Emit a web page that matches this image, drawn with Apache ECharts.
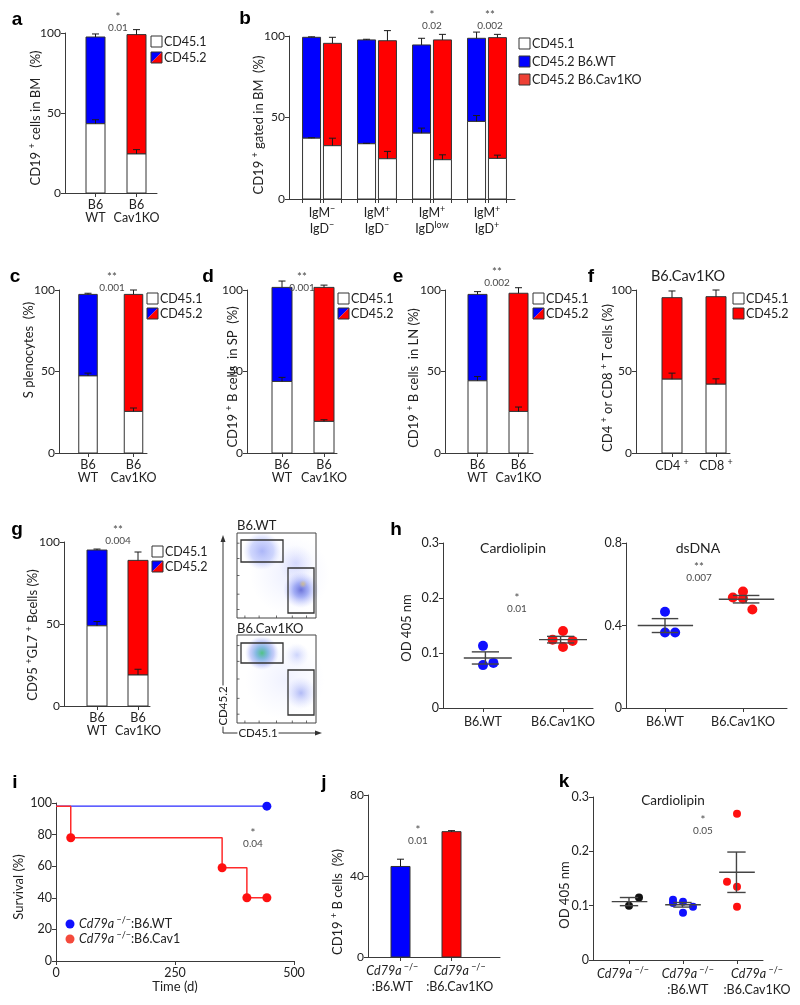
<!DOCTYPE html>
<html><head><meta charset="utf-8">
<script src="https://cdn.jsdelivr.net/npm/echarts@6/dist/echarts.min.js"></script>
<style>html,body{margin:0;padding:0;background:#fff}#c{width:800px;height:1005px}</style>
</head><body><div id="c"></div>
<script>
// ================= DATA =================
const stackCats = ['B6\nWT', 'B6\nCav1KO'];
const stackLegend = ['CD45.1', 'CD45.2'];
// a
const aCD451 = [43.3, 24.4], aCD451Sem = [2.5, 2.7], aTotal = [97.5, 99.0], aTotalSem = [1.9, 3.1];
const aSig = ['*', '0.01'];
// b
const bCats = ['{n|IgM}{s|−}\n{n|IgD}{s|−}', '{n|IgM}{s|+}\n{n|IgD}{s|−}', '{n|IgM}{s|+}\n{n|IgD}{s|low}', '{n|IgM}{s|+}\n{n|IgD}{s|+}'];
const bLegend = ['CD45.1', 'CD45.2 B6.WT', 'CD45.2 B6.Cav1KO'];
const bWtCD451 = [37.3, 33.9, 40.4, 47.6], bWtCD451Sem = [0.3, 0.3, 3.1, 3.6];
const bWtTotal = [99.2, 97.6, 94.5, 98.6], bWtTotalSem = [0.3, 0.4, 4.1, 3.8];
const bKoCD451 = [32.7, 24.7, 24.1, 24.9], bKoCD451Sem = [4.6, 4.5, 3.0, 2.0];
const bKoTotal = [95.5, 97.1, 97.6, 99.0], bKoTotalSem = [3.7, 6.2, 3.4, 2.0];
const bSig = [['*', '0.02'], ['**', '0.002']];
// c
const cCD451 = [47.3, 25.5], cCD451Sem = [1.7, 2.1], cTotal = [97.3, 97.3], cTotalSem = [0.7, 2.7];
const cSig = ['**', '0.001'];
// d
const dCD451 = [43.9, 19.4], dCD451Sem = [2.5, 1.0], dTotal = [101.6, 101.6], dTotalSem = [3.9, 1.4];
const dSig = ['**', '0.001'];
// e
const eCD451 = [44.3, 25.5], eCD451Sem = [2.6, 2.7], eTotal = [97.3, 98.0], eTotalSem = [1.7, 3.4];
const eSig = ['**', '0.002'];
// f
const fCats = ['{n|CD4 }{s|+}', '{n|CD8 }{s|+}'];
const fTitle = 'B6.Cav1KO';
const fCD451 = [45.3, 42.2], fCD451Sem = [3.7, 3.3], fTotal = [95.3, 95.9], fTotalSem = [4.1, 4.1];
// g
const gCD451 = [48.9, 18.9], gCD451Sem = [2.6, 3.5], gTotal = [95.1, 88.8], gTotalSem = [0.6, 5.1];
const gSig = ['**', '0.004'];
const flowTitles = ['B6.WT', 'B6.Cav1KO'];
const flowAxes = ['CD45.2', 'CD45.1'];
// h
const hCats = ['B6.WT', 'B6.Cav1KO'];
const hTitles = ['Cardiolipin', 'dsDNA'];
const hCardioWT = [0.113, 0.078, 0.082];
const hCardioKO = [0.124, 0.140, 0.111, 0.122];
const hDnaWT = [0.467, 0.366, 0.366];
const hDnaKO = [0.536, 0.531, 0.565, 0.478];
const hSig = [['*', '0.01'], ['**', '0.007']];
// i
const iTimeWT = [0, 443], iSurvWT = [98, 98];
const iTimeKO = [0, 31, 349, 401, 443], iSurvKO = [98, 78, 59, 40, 40];
const iLegend = ['{i|Cd79a}{s| −/−}{n|:B6.WT}', '{i|Cd79a}{s| −/−}{n|:B6.Cav1}'];
const iSig = ['*', '0.04'];
// j
const jCats = ['{i|Cd79a}{s| −/−}\n{n|:B6.WT}', '{i|Cd79a}{s| −/−}\n{n|:B6.Cav1KO}'];
const jVals = [44.7, 61.9], jSem = [3.6, 0.5];
const jSig = ['*', '0.01'];
// k
const kCats = ['{i|Cd79a}{s| −/−}', '{i|Cd79a}{s| −/−}\n{n|:B6.WT}', '{i|Cd79a}{s| −/−}\n{n|:B6.Cav1KO}'];
const kTitle = 'Cardiolipin';
const kKO = [0.100, 0.115];
const kWT = [0.111, 0.105, 0.107, 0.087, 0.098];
const kCav = [0.144, 0.269, 0.135, 0.098];
const kSig = ['*', '0.05'];
// axis titles
const yTitles = {
  a: '{n|CD19 }{s|+}{n| cells in BM   (%)}',
  b: '{n|CD19 }{s|+}{n| gated in BM  (%)}',
  c: '{n|S plenocytes  (%)}',
  d: '{n|CD19 }{s|+}{n| B cells  in SP  (%)}',
  e: '{n|CD19 }{s|+}{n| B cells  in LN (%)}',
  f: '{n|CD4 }{s|+}{n| or CD8 }{s|+}{n| T cells (%)}',
  g: '{n|CD95 }{s|+}{n|GL7 }{s|+}{n| Bcells (%)}',
  h: '{n|OD 405 nm}', i: '{n|Survival (%)}', j: '{n|CD19 }{s|+}{n| B cells  (%)}', k: '{n|OD 405 nm}'
};
const iXTitle = 'Time (d)';
const panelLetters = ['a','b','c','d','e','f','g','h','i','j','k'];

// ================= LAYOUT / STYLE =================
const FONT = 'Lato';
const AX = '#3a3a3a', TXT = '#222', SIGC = '#4a4a4a';
const BLUE = '#0000ff', RED = '#ff0000', RED2 = '#ee4035';
const RICH = {
  n: {fontSize: 12.5, fontFamily: FONT, color: TXT, lineHeight: 16},
  s: {fontSize: 9, fontFamily: FONT, color: TXT, verticalAlign: 'top', lineHeight: 10},
  i: {fontSize: 12.5, fontFamily: FONT, color: TXT, fontStyle: 'italic', lineHeight: 16}
};
const RICH_T = {
  n: {fontSize: 13, fontFamily: FONT, color: TXT, lineHeight: 17},
  s: {fontSize: 9, fontFamily: FONT, color: TXT, verticalAlign: 'top', lineHeight: 10}
};
const L = {
  a: {left: 65, right: 157, top: 33, bottom: 193, c1: 95.5, u: 41, bw: 19},
  b: {left: 289, right: 515, top: 36, bottom: 199, c1: 322, u: 55, bw: 18, off: 0.19},
  c: {left: 59, right: 147, top: 290, bottom: 453, c1: 88, u: 45.5, bw: 18.5},
  d: {left: 247, right: 337, top: 290, bottom: 453, c1: 282, u: 42, bw: 20},
  e: {left: 445, right: 533, top: 290, bottom: 453, c1: 477.5, u: 41, bw: 19},
  f: {left: 636, right: 730, top: 290, bottom: 453, c1: 672, u: 44, bw: 20},
  g: {left: 64, right: 150, top: 542, bottom: 706, c1: 97, u: 41, bw: 20},
  j: {left: 368, right: 500, top: 795, bottom: 957, c1: 400.5, u: 51, bw: 19},
  h1: {left: 443, right: 593, top: 543, bottom: 708, c1: 483, u: 80},
  h2: {left: 626, right: 787, top: 543, bottom: 708, c1: 665, u: 78},
  k: {left: 593, right: 763, top: 797, bottom: 960, c1: 629, u: 54},
  i: {left: 56, right: 294, top: 803, bottom: 961}
};
const jit3 = [0, 0, 0.13], jit4 = [-0.13, 0, 0, 0.12];
const kJit2 = [0, 0.185], kJit5 = [-0.185, -0.185, 0, 0, 0.185], kJit4 = [-0.185, 0, 0, 0];

const grids = [], xAxes = [], yAxes = [], series = [], graphics = [];

function xr(l) { return {min: 1 - (l.c1 - l.left) / l.u, max: 1 + (l.right - l.c1) / l.u}; }
function addGrid(l) {
  grids.push({left: l.left, top: l.top, width: l.right - l.left, height: l.bottom - l.top});
  return grids.length - 1;
}
function yAx(gi, max, interval, fs) {
  return {type: 'value', gridIndex: gi, min: 0, max, interval,
    axisLine: {show: true, lineStyle: {color: AX, width: 1}},
    axisTick: {show: true, length: 4, lineStyle: {color: AX}},
    axisLabel: {color: TXT, fontSize: fs || 12, fontFamily: FONT, margin: 4},
    splitLine: {show: false}};
}
function xAxC(gi, range, labelVals, labelTexts, tickVals, margin) {
  return {type: 'value', gridIndex: gi, min: range.min, max: range.max,
    axisLine: {show: true, lineStyle: {color: AX, width: 1}},
    axisTick: {show: true, length: 4, lineStyle: {color: AX}, customValues: tickVals},
    axisLabel: {customValues: labelVals, margin: margin || 5, color: TXT, fontSize: 12.5, fontFamily: FONT, lineHeight: 13,
      rich: RICH,
      formatter: (v) => { const i = labelVals.findIndex(u => Math.abs(u - v) < 1e-6); return i >= 0 ? labelTexts[i] : ''; }},
    splitLine: {show: false}};
}
function stackBars(gi, xs, bw, w, wSem, t, tSem, colors) {
  const data = xs.map((x, i) => [x, w[i], t[i], wSem[i], tSem[i], i]);
  series.push({type: 'custom', xAxisIndex: gi, yAxisIndex: gi, clip: false, silent: true, z: 3, data,
    renderItem: (p, api) => {
      const x = api.value(0), wv = api.value(1), tv = api.value(2), ew = api.value(3), et = api.value(4), ci = api.value(5);
      const half = api.size([bw, 0])[0] / 2;
      const P = v => api.coord([x, v]);
      const p0 = P(0), pw = P(wv), pt = P(tv), pwe = P(wv + ew), pte = P(tv + et);
      const cap = 3.5, es = {stroke: '#1a1a1a', lineWidth: 1};
      const ch = [];
      const stacked = tv > wv;
      if (stacked) ch.push({type: 'rect', shape: {x: p0[0] - half, y: pt[1], width: 2 * half, height: pw[1] - pt[1]}, style: {fill: colors[ci], stroke: '#333', lineWidth: 1}});
      ch.push({type: 'rect', shape: {x: p0[0] - half, y: pw[1], width: 2 * half, height: p0[1] - pw[1]}, style: {fill: stacked ? '#fff' : colors[ci], stroke: '#333', lineWidth: 1}});
      if (ew > 0) { ch.push({type: 'line', shape: {x1: p0[0], y1: pw[1], x2: p0[0], y2: pwe[1]}, style: es});
        ch.push({type: 'line', shape: {x1: p0[0] - cap, y1: pwe[1], x2: p0[0] + cap, y2: pwe[1]}, style: es}); }
      if (stacked && et > 0) { ch.push({type: 'line', shape: {x1: p0[0], y1: pt[1], x2: p0[0], y2: pte[1]}, style: es});
        ch.push({type: 'line', shape: {x1: p0[0] - cap, y1: pte[1], x2: p0[0] + cap, y2: pte[1]}, style: es}); }
      return {type: 'group', children: ch};
    }});
}
function meanSem(v) {
  const n = v.length, m = v.reduce((a, b) => a + b, 0) / n;
  const sd = Math.sqrt(v.reduce((a, b) => a + (b - m) * (b - m), 0) / (n - 1));
  return [m, sd / Math.sqrt(n)];
}
function dots(gi, c, vals, jit, color, size) {
  series.push({type: 'scatter', xAxisIndex: gi, yAxisIndex: gi, symbol: 'circle', symbolSize: size, z: 2,
    itemStyle: {color, opacity: 1}, data: vals.map((v, i) => [c + jit[i], v])});
}
function meanSemSeries(gi, groups, ml, mr, capw) {
  const data = groups.map(g => { const ms = meanSem(g.vals); return [g.c, ms[0], ms[1]]; });
  series.push({type: 'custom', xAxisIndex: gi, yAxisIndex: gi, clip: false, silent: true, z: 4, data,
    renderItem: (p, api) => {
      const c = api.value(0), m = api.value(1), s = api.value(2);
      const A = api.coord([c - ml, m]), B = api.coord([c + mr, m]);
      const U = api.coord([c, m + s]), D = api.coord([c, m - s]);
      const cl = api.coord([c - capw, m])[0], cr = api.coord([c + capw, m])[0];
      const st = {stroke: '#444', lineWidth: 1.4};
      return {type: 'group', children: [
        {type: 'line', shape: {x1: A[0], y1: A[1], x2: B[0], y2: B[1]}, style: st},
        {type: 'line', shape: {x1: U[0], y1: U[1], x2: D[0], y2: D[1]}, style: st},
        {type: 'line', shape: {x1: cl, y1: U[1], x2: cr, y2: U[1]}, style: st},
        {type: 'line', shape: {x1: cl, y1: D[1], x2: cr, y2: D[1]}, style: st}]};
    }});
}
function txt(x, y, text, opt) {
  opt = opt || {};
  graphics.push({type: 'text', x, y, rotation: opt.rot || 0, z: 10,
    style: Object.assign({text, fill: opt.color || TXT, font: (opt.weight || 'normal') + ' ' + (opt.size || 12) + 'px ' + (opt.family || FONT),
      align: opt.align || 'center', verticalAlign: opt.va || 'middle', textAlign: opt.align || 'center', textVerticalAlign: opt.va || 'middle'},
      opt.rich ? {rich: opt.rich} : {}, opt.bg ? {backgroundColor: opt.bg, padding: opt.pad || [0, 2]} : {})});
}
function sig(x, y, pair) { txt(x, y, pair[0], {size: 11.5, color: SIGC}); txt(x, y + 10.5, pair[1], {size: 10, color: SIGC}); }
function legendBox(x, y, kind, label, size) {
  const s = size || 11;
  if (kind === 'split') {
    graphics.push({type: 'polygon', z: 10, shape: {points: [[x, y], [x + s, y], [x, y + s]]}, style: {fill: BLUE}});
    graphics.push({type: 'polygon', z: 10, shape: {points: [[x + s, y], [x + s, y + s], [x, y + s]]}, style: {fill: RED}});
    graphics.push({type: 'rect', z: 11, shape: {x, y, width: s, height: s}, style: {fill: 'none', stroke: '#333', lineWidth: 1}});
  } else {
    graphics.push({type: 'rect', z: 10, shape: {x, y, width: s, height: s}, style: {fill: kind, stroke: '#333', lineWidth: 1}});
  }
  txt(x + s + 2, y + s / 2 + 0.5, label, {align: 'left', size: 12.5});
}

// ---------- stacked bar panels ----------
function simpleStack(key, w, wSem, t, tSem, cats, colors) {
  const l = L[key], gi = addGrid(l), r = xr(l);
  xAxes.push(xAxC(gi, r, [1, 2], cats, [1, 2], 5));
  yAxes.push(yAx(gi, 100, 50));
  stackBars(gi, [1, 2], l.bw / l.u, w, wSem, t, tSem, colors);
}
simpleStack('a', aCD451, aCD451Sem, aTotal, aTotalSem, stackCats, [BLUE, RED]);
(function () {
  const l = L.b, gi = addGrid(l), r = xr(l), h = l.bw / l.u / 2;
  const groups = [1, 2, 3, 4];
  const ticks = [];
  groups.forEach(g => { ticks.push(g - l.off - h, g - l.off + h, g + l.off - h, g + l.off + h); });
  xAxes.push(xAxC(gi, r, groups, bCats, ticks, 6));
  yAxes.push(yAx(gi, 100, 50));
  stackBars(gi, groups.map(g => g - l.off), l.bw / l.u, bWtCD451, bWtCD451Sem, bWtTotal, bWtTotalSem, [BLUE, BLUE, BLUE, BLUE]);
  stackBars(gi, groups.map(g => g + l.off), l.bw / l.u, bKoCD451, bKoCD451Sem, bKoTotal, bKoTotalSem, [RED, RED, RED, RED]);
})();
simpleStack('c', cCD451, cCD451Sem, cTotal, cTotalSem, stackCats, [BLUE, RED]);
simpleStack('d', dCD451, dCD451Sem, dTotal, dTotalSem, stackCats, [BLUE, RED]);
simpleStack('e', eCD451, eCD451Sem, eTotal, eTotalSem, stackCats, [BLUE, RED]);
simpleStack('f', fCD451, fCD451Sem, fTotal, fTotalSem, fCats, [RED, RED]);
simpleStack('g', gCD451, gCD451Sem, gTotal, gTotalSem, stackCats, [BLUE, RED]);

// ---------- h ----------
(function () {
  const l = L.h1, gi = addGrid(l);
  xAxes.push(xAxC(gi, xr(l), [1, 2], hCats, [1, 2], 7));
  yAxes.push(yAx(gi, 0.3, 0.1, 12.5));
  dots(gi, 1, hCardioWT, jit3, '#1010ff', 10);
  dots(gi, 2, hCardioKO, jit4, '#ff1010', 10);
  meanSemSeries(gi, [{c: 1.03, vals: hCardioWT}, {c: 1.97, vals: hCardioKO}], 0.27, 0.33, 0.17);
  const l2 = L.h2, g2 = addGrid(l2);
  xAxes.push(xAxC(g2, xr(l2), [1, 2], hCats, [1, 2], 7));
  yAxes.push(yAx(g2, 0.8, 0.4, 12.5));
  dots(g2, 1, hDnaWT, jit3, '#1010ff', 10);
  dots(g2, 2, hDnaKO, jit4, '#ff1010', 10);
  meanSemSeries(g2, [{c: 1.0, vals: hDnaWT}, {c: 2.04, vals: hDnaKO}], 0.35, 0.36, 0.17);
})();

// ---------- i ----------
(function () {
  const l = L.i, gi = addGrid(l);
  xAxes.push({type: 'value', gridIndex: gi, min: 0, max: 500, interval: 250,
    axisLine: {show: true, lineStyle: {color: AX}}, axisTick: {show: true, length: 4, lineStyle: {color: AX}},
    axisLabel: {color: TXT, fontSize: 12.5, fontFamily: FONT, margin: 5}, splitLine: {show: false}});
  yAxes.push(yAx(gi, 100, 20, 12.5));
  series.push({type: 'line', xAxisIndex: gi, yAxisIndex: gi, step: 'end', symbol: 'circle', symbolSize: 9,
    lineStyle: {color: '#2a2aff', width: 1.2}, itemStyle: {color: '#1010ff'},
    data: iTimeWT.map((t, k) => k === 0 ? {value: [t, iSurvWT[k]], symbol: 'none'} : {value: [t, iSurvWT[k]]})});
  series.push({type: 'line', xAxisIndex: gi, yAxisIndex: gi, step: 'end', symbol: 'circle', symbolSize: 9,
    lineStyle: {color: '#ff2a2a', width: 1.5}, itemStyle: {color: '#ff1010'},
    data: iTimeKO.map((t, k) => k === 0 ? {value: [t, iSurvKO[k]], symbol: 'none'} : {value: [t, iSurvKO[k]]})});
})();

// ---------- j ----------
(function () {
  const l = L.j, gi = addGrid(l), r = xr(l);
  xAxes.push(xAxC(gi, r, [0.84, 2.16], jCats, [1, 2], 6));
  yAxes.push(yAx(gi, 80, 40));
  stackBars(gi, [1, 2], l.bw / l.u, jVals, jSem, jVals, [0, 0], [BLUE, RED]);
})();

// ---------- k ----------
(function () {
  const l = L.k, gi = addGrid(l), r = xr(l);
  xAxes.push(xAxC(gi, r, [0.89, 2.09, 3.37], kCats, [1, 2, 3], 6));
  yAxes.push(yAx(gi, 0.3, 0.1, 12.5));
  dots(gi, 1, kKO, kJit2, '#111', 8);
  dots(gi, 2, kWT, kJit5, '#1010ff', 8);
  dots(gi, 3, kCav, kJit4, '#ff1010', 8);
  meanSemSeries(gi, [{c: 1.0, vals: kKO}, {c: 1.99, vals: kWT}, {c: 2.99, vals: kCav}], 0.32, 0.34, 0.17);
})();

// ---------- text / legends ----------
const letterPos = [[17, 20], [245, 19], [15, 277], [208, 277], [398, 277], [591, 277], [17, 530], [396, 530], [15, 783], [324, 783], [564, 782]];
panelLetters.forEach((s, i) => txt(letterPos[i][0], letterPos[i][1], s, {size: 19, weight: 'bold', family: 'Liberation Sans', color: '#000'}));

const yTitlePos = {a: [36, 118], b: [259, 125], c: [29, 350], d: [233, 377], e: [414, 378], f: [608, 378], g: [33, 635], h: [407, 628], i: [19, 887], j: [338, 902], k: [565, 895]};
Object.keys(yTitles).forEach(k => txt(yTitlePos[k][0], yTitlePos[k][1], yTitles[k], {rot: Math.PI / 2, rich: RICH_T}));

sig(118, 17, aSig);
sig(432, 15, bSig[0]); sig(490, 15, bSig[1]);
sig(112, 277, cSig); sig(302, 277, dSig); sig(497, 272, eSig); sig(118, 530, gSig);
sig(517, 598, hSig[0]); sig(699, 567, hSig[1]);
sig(253, 833, iSig); sig(418, 830, jSig); sig(703, 820, kSig);

legendBox(151, 36, '#fff', stackLegend[0]); legendBox(151, 52, 'split', stackLegend[1]);
legendBox(519, 38, '#fff', bLegend[0]); legendBox(519, 56, BLUE, bLegend[1]); legendBox(519, 74, RED2, bLegend[2]);
legendBox(147, 293, '#fff', stackLegend[0]); legendBox(147, 308, 'split', stackLegend[1]);
legendBox(338, 293, '#fff', stackLegend[0]); legendBox(338, 308, 'split', stackLegend[1]);
legendBox(533, 293, '#fff', stackLegend[0]); legendBox(533, 308, 'split', stackLegend[1]);
legendBox(733, 293, '#fff', stackLegend[0]); legendBox(733, 308, RED, stackLegend[1]);
legendBox(152, 546, '#fff', stackLegend[0]); legendBox(152, 561, 'split', stackLegend[1]);

txt(688, 276, fTitle, {size: 14.5});
txt(513, 548, hTitles[0], {size: 14}); txt(698, 548, hTitles[1], {size: 14});
txt(673, 801, kTitle, {size: 13.5});
txt(175, 987, iXTitle, {size: 13});
graphics.push({type: 'circle', z: 10, shape: {cx: 70, cy: 924, r: 4.5}, style: {fill: '#1010ff'}});
graphics.push({type: 'circle', z: 10, shape: {cx: 70, cy: 939, r: 4.5}, style: {fill: '#f44a3c'}});
txt(79, 924, iLegend[0], {align: 'left', rich: RICH});
txt(79, 939, iLegend[1], {align: 'left', rich: RICH});

// ---------- flow plots (g, right) ----------
function cloud(cx, cy, rx, ry, stops) {
  graphics.push({type: 'ellipse', z: 5, shape: {cx, cy, rx, ry},
    style: {fill: {type: 'radial', x: 0.5, y: 0.5, r: 0.5, colorStops: stops}}});
}
const fb = [[237, 533, 316, 618], [237, 635, 316, 723]];
cloud(290, 575, 40, 40, [{offset: 0, color: 'rgba(170,180,255,0.22)'}, {offset: 1, color: 'rgba(190,200,255,0)'}]);
cloud(285, 680, 42, 40, [{offset: 0, color: 'rgba(170,180,255,0.18)'}, {offset: 1, color: 'rgba(190,200,255,0)'}]);
cloud(262, 551, 31, 19, [{offset: 0, color: 'rgba(90,110,240,0.5)'}, {offset: 0.6, color: 'rgba(120,140,248,0.35)'}, {offset: 1, color: 'rgba(170,180,255,0)'}]);
cloud(296, 563, 18, 24, [{offset: 0, color: 'rgba(140,150,250,0.3)'}, {offset: 1, color: 'rgba(180,190,255,0)'}]);
cloud(301, 590, 18, 30, [{offset: 0, color: 'rgba(50,60,200,0.7)'}, {offset: 0.4, color: 'rgba(80,100,235,0.5)'}, {offset: 1, color: 'rgba(160,170,255,0)'}]);
cloud(303, 584, 4, 4, [{offset: 0, color: 'rgba(235,200,90,0.6)'}, {offset: 1, color: 'rgba(235,200,90,0)'}]);
cloud(262, 653, 31, 17, [{offset: 0, color: 'rgba(50,185,110,0.85)'}, {offset: 0.35, color: 'rgba(50,140,205,0.6)'}, {offset: 0.7, color: 'rgba(100,120,240,0.35)'}, {offset: 1, color: 'rgba(160,170,255,0)'}]);
cloud(297, 655, 13, 12, [{offset: 0, color: 'rgba(120,140,245,0.35)'}, {offset: 1, color: 'rgba(180,190,255,0)'}]);
cloud(301, 693, 16, 28, [{offset: 0, color: 'rgba(90,110,235,0.45)'}, {offset: 1, color: 'rgba(170,180,255,0)'}]);
fb.forEach(b => {
  graphics.push({type: 'rect', z: 6, shape: {x: b[0], y: b[1], width: b[2] - b[0], height: b[3] - b[1]}, style: {fill: 'none', stroke: '#444', lineWidth: 1}});
  [0.12, 0.3, 0.5, 0.72, 0.9].forEach(f => {
    const yy = b[1] + f * (b[3] - b[1]);
    graphics.push({type: 'line', z: 6, shape: {x1: b[0], y1: yy, x2: b[0] + 2.5, y2: yy}, style: {stroke: '#444', lineWidth: 0.8}});
  });
  [0.1, 0.28, 0.5, 0.7, 0.88].forEach(f => {
    const xx = b[0] + f * (b[2] - b[0]);
    graphics.push({type: 'line', z: 6, shape: {x1: xx, y1: b[3], x2: xx, y2: b[3] - 2.5}, style: {stroke: '#444', lineWidth: 0.8}});
  });
});
[[241, 540, 283, 562], [288, 568, 314, 613], [241, 643, 283, 663], [288, 670, 314, 715]].forEach(b =>
  graphics.push({type: 'rect', z: 7, shape: {x: b[0], y: b[1], width: b[2] - b[0], height: b[3] - b[1]}, style: {fill: 'none', stroke: '#333', lineWidth: 1.3}}));
txt(237, 526, flowTitles[0], {align: 'left', size: 13});
txt(237, 629, flowTitles[1], {align: 'left', size: 13});
graphics.push({type: 'line', z: 8, shape: {x1: 223, y1: 733, x2: 223, y2: 541}, style: {stroke: '#333', lineWidth: 1}});
graphics.push({type: 'polygon', z: 8, shape: {points: [[223, 535], [220.5, 542], [225.5, 542]]}, style: {fill: '#333'}});
graphics.push({type: 'line', z: 8, shape: {x1: 223, y1: 733, x2: 316, y2: 733}, style: {stroke: '#333', lineWidth: 1}});
graphics.push({type: 'polygon', z: 8, shape: {points: [[322, 733], [315, 730.5], [315, 735.5]]}, style: {fill: '#333'}});
txt(223, 706, flowAxes[0], {rot: Math.PI / 2, size: 11.5, bg: '#fff', pad: [0, 1]});
txt(258, 733, flowAxes[1], {size: 11.5, bg: '#fff', pad: [0, 1]});

const chart = echarts.init(document.getElementById('c'), null, {renderer: 'canvas'});
chart.setOption({animation: false, backgroundColor: '#fff', textStyle: {fontFamily: FONT},
  grid: grids, xAxis: xAxes, yAxis: yAxes, series, graphic: {elements: graphics}});
</script></body></html>
